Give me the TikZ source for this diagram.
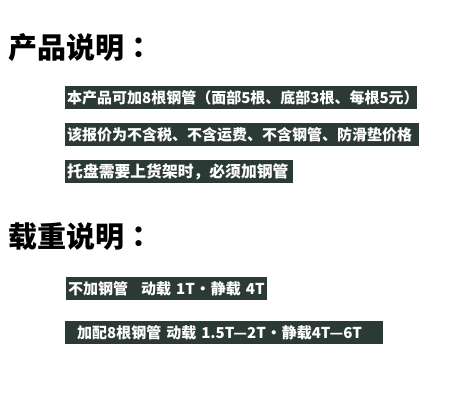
\documentclass[tikz,border=0pt]{standalone}
\usepackage{fontspec}
\newfontfamily\cjk{Noto Sans CJK SC}
\newfontfamily\cjkjp{Noto Sans CJK JP}
\definecolor{boxgreen}{HTML}{2C3A36}
\newcommand\loaddot{\hspace{0.5pt}•\hspace{0.5pt}}
\tikzset{
	heading/.style={anchor=west, inner sep=0pt, font=\cjk\bfseries\fontsize{29}{29}\selectfont},
	notebox/.style={fill=boxgreen, text=white, anchor=north west, inner xsep=2pt, inner ysep=0pt,
		minimum height=23pt, align=left, font=\cjk\bfseries\fontsize{15}{15}\selectfont},
}

\begin{document}
\begin{tikzpicture}[x=1pt, y=-1pt]

	\useasboundingbox[fill=white] (0,0) rectangle (450,419);

	% product notes
	\node[heading] (prodhead) at (8,48) {产品说明{\cjkjp ：}};
	\node[notebox, text width=348pt] (prodA) at (65,86) {\mbox{本产品可加8根钢管（面部5根、底部3根、每根5元）}};
	\node[notebox, text width=350pt] (prodB) at (65,123) {\mbox{该报价为不含税、不含运费、不含钢管、防滑垫价格}};
	\node[notebox, text width=224pt, font=\cjk\bfseries\fontsize{15.8}{15.8}\selectfont] (prodC) at (65,160) {\mbox{托盘需要上货架时，必须加钢管}};

	% load notes
	\node[heading] (loadhead) at (8,237) {载重说明{\cjkjp ：}};
	\node[notebox, text width=197pt] (loadA) at (66,277) {\mbox{不加钢管\hspace{13pt}动载 1T\loaddot 静载 4T}};
	\node[notebox, text width=314pt] (loadB) at (65,321) {\mbox{\hspace{10pt}加配8根钢管 动载 1.5T—2T\loaddot 静载4T—6T}};

\end{tikzpicture}
\end{document}
